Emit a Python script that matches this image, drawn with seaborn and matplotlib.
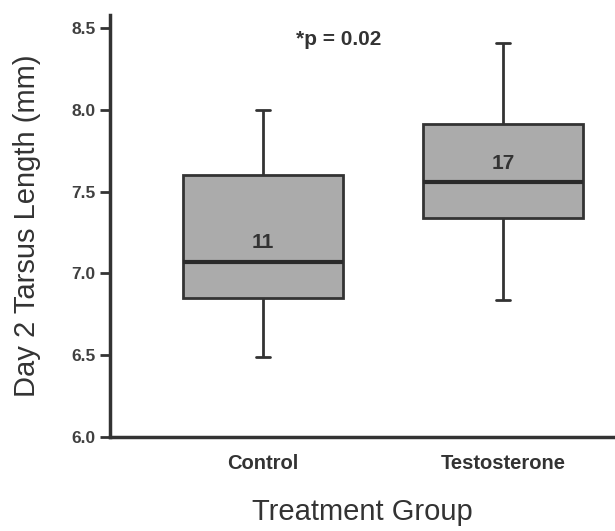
import matplotlib
matplotlib.use("Agg")
import matplotlib.pyplot as plt
import seaborn as sns
import pandas as pd
import numpy as np

groups = ["Control", "Testosterone"]
# five-number summaries: min, Q1, median, Q3, max
control_vals = [6.49, 6.85, 7.07, 7.60, 8.00]
testo_vals = [6.84, 7.34, 7.56, 7.91, 8.41]
sample_sizes = ["11", "17"]
size_label_y = [7.19, 7.67]
yticks = [6.0, 6.5, 7.0, 7.5, 8.0, 8.5]
p_text = "*p = 0.02"

sns.set_theme(style="white")
plt.rcParams['font.family'] = ['Liberation Sans', 'DejaVu Sans']

df = pd.DataFrame({
    "group": [groups[0]] * len(control_vals) + [groups[1]] * len(testo_vals),
    "value": control_vals + testo_vals,
})

fig = plt.figure(figsize=(6.15, 5.31), dpi=100)
ax = fig.add_axes([0.179, 0.177, 0.821, 0.795])

dark = "#333333"
box_w = 0.67
sns.boxplot(data=df, x="group", y="value", order=groups, whis=(0, 100),
            width=box_w, color="#ababab", saturation=1, ax=ax,
            linewidth=2, linecolor=dark,
            medianprops=dict(color="#2a2a2a", linewidth=3),
            whiskerprops=dict(color=dark, linewidth=2),
            capprops=dict(color=dark, linewidth=2),
            boxprops=dict(edgecolor=dark, linewidth=2),
            showfliers=False)

# narrow the whisker caps
cap_half = 0.028
for line in ax.lines:
    xs = np.asarray(line.get_xdata(), dtype=float)
    ys = np.asarray(line.get_ydata(), dtype=float)
    if len(xs) == 2 and ys[0] == ys[1]:
        span = abs(xs[1] - xs[0])
        if span < box_w * 0.9:
            c = xs.mean()
            line.set_xdata([c - cap_half, c + cap_half])

ax.set_xlim(-0.6375, 1.467)
ax.set_ylim(6.0, 8.58)
ax.set_yticks(yticks)
ax.set_yticklabels([f"{t:.1f}" for t in yticks], fontweight="bold",
                   color="#404040", fontsize=12.5)
ax.set_xticks(range(len(groups)))
ax.set_xticklabels(groups, fontweight="bold", color="#333333", fontsize=14.5)
ax.tick_params(axis="y", direction="out", length=7, width=2, color=dark, pad=3.5, left=True)
ax.tick_params(axis="x", length=0, pad=12)

for s in ["top", "right"]:
    ax.spines[s].set_visible(False)
for s in ["left", "bottom"]:
    ax.spines[s].set_color(dark)
    ax.spines[s].set_linewidth(2.5)

ax.set_xlabel("Treatment Group", fontsize=21, color="#333333", labelpad=18)
ax.set_ylabel("Day 2 Tarsus Length (mm)", fontsize=21, color="#333333", labelpad=22)

for i, (t, y) in enumerate(zip(sample_sizes, size_label_y)):
    ax.text(i, y, t, ha="center", va="center", fontsize=15,
            fontweight="bold", color="#333333")
ax.text(0.317, 8.43, p_text, ha="center", va="center", fontsize=15,
        fontweight="bold", color="#333333")

fig.savefig("out.png", dpi=100, facecolor="white")
